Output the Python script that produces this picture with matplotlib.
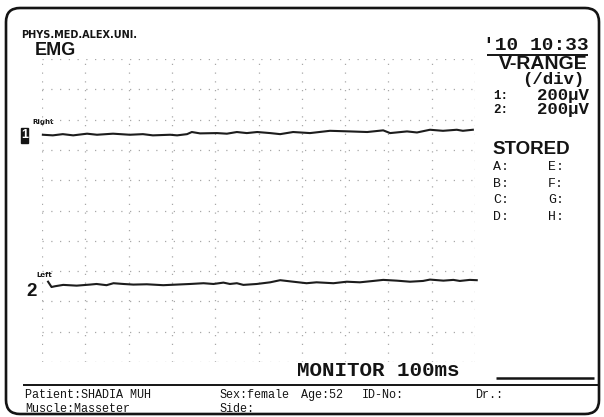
import numpy as np
import matplotlib
matplotlib.use("Agg")
import matplotlib.pyplot as plt
from matplotlib.patches import FancyBboxPatch, Rectangle

# ---- recorded traces (time in ms, deflection in microvolts) ----
right_t = [2, 25, 48, 72, 104, 127, 164, 203, 233, 256, 296, 312, 335, 346, 365,
           404, 427, 450, 473, 497, 527, 550, 580, 619, 665, 711, 751, 788, 804,
           843, 866, 896, 926, 958, 972, 995]
right_uv = [0, -4, 4, -4, 7, 0, 7, 0, 4, -4, 0, -4, 4, 18, 9,
            11, 7, 18, 11, 18, 11, 4, 18, 11, 26, 22, 18, 29, 11,
            22, 15, 33, 26, 33, 26, 33]

left_t = [14, 22, 30, 49, 80, 111, 126, 149, 165, 188, 211, 242, 280, 311, 342,
          373, 396, 419, 434, 450, 465, 496, 527, 550, 580, 611, 634, 673, 704,
          734, 765, 788, 819, 850, 880, 896, 927, 950, 965, 988, 1004]
left_uv = [30, -5, 0, 9, 4, 11, 15, 7, 20, 15, 11, 13, 7, 11, 15,
           20, 15, 24, 15, 20, 9, 15, 26, 40, 30, 20, 26, 20, 30,
           26, 35, 42, 37, 30, 35, 44, 37, 42, 35, 42, 40]

channel_labels = ["Right", "Left"]
channel_numbers = ["1", "2"]
v_range_uv = [200, 200]          # per-division sensitivity of each channel
sweep_ms_per_div = 100
n_div = 10

stored_left = ["A:", "B:", "C:", "D:"]
stored_right = ["E:", "F:", "G:", "H:"]

W, H = 604, 417
fig = plt.figure(figsize=(W / 100, H / 100), dpi=100)
fig.patch.set_facecolor("white")

# overlay in pixel units (y downward) for the printed frame and annotations
ov = fig.add_axes([0, 0, 1, 1])
ov.set_xlim(0, W)
ov.set_ylim(H, 0)
ov.axis("off")

ink = "#141414"
frame = FancyBboxPatch((6, 8), 593, 406, boxstyle="round,pad=0,rounding_size=14",
                       fill=False, ec=ink, lw=1.9)
ov.add_patch(frame)

mono = "Liberation Mono"
sans = "Liberation Sans"

ov.text(21, 35, "PHYS.MED.ALEX.UNI.", fontsize=7, family="DejaVu Sans",
        fontweight="bold", color=ink, va="center", ha="left")
ov.text(35, 50, "EMG", fontsize=13, family=sans, fontweight="bold", color=ink,
        va="center", ha="left")

# header block on the right
ov.text(589, 45, "'10 10:33", fontsize=14, family=mono, fontweight="bold",
        color=ink, va="center", ha="right")
ov.plot([487, 588], [55, 55], color=ink, lw=1.4, solid_capstyle="butt")
ov.text(588, 64, "V-RANGE", fontsize=14, family=sans, fontweight="bold", color=ink,
        va="center", ha="right")
ov.text(584, 79, "(/div)", fontsize=12.5, family=mono, fontweight="bold", color=ink,
        va="center", ha="right")
for i, (num, vr) in enumerate(zip(channel_numbers, v_range_uv)):
    yy = 95.5 + 14 * i
    ov.text(493, yy, f"{num}:", fontsize=9, family=mono, fontweight="bold",
            color=ink, va="center", ha="left")
    ov.text(589, yy, f"{vr}\u00b5V", fontsize=12.5, family=mono, fontweight="bold",
            color=ink, va="center", ha="right")

ov.text(492, 149, "STORED", fontsize=13.5, family=sans, fontweight="bold", color=ink,
        va="center", ha="left")
for i, (a, b) in enumerate(zip(stored_left, stored_right)):
    yy = 167 + 16.5 * i
    ov.text(493, yy, a, fontsize=9.5, family=mono, color=ink, va="center", ha="left")
    ov.text(548, yy, b, fontsize=9.5, family=mono, color=ink, va="center", ha="left")

# channel tags
ov.text(32, 122, channel_labels[0], fontsize=5, family="DejaVu Sans", fontweight="bold",
        color=ink, va="center", ha="left")
ov.add_patch(Rectangle((20.5, 128), 7.5, 15, fc=ink, ec=ink))
ov.text(24.3, 135.5, channel_numbers[0], fontsize=9, family=sans, fontweight="bold",
        color="white", va="center", ha="center")
ov.text(36, 275, channel_labels[1], fontsize=5, family="DejaVu Sans", fontweight="bold",
        color=ink, va="center", ha="left")
ov.text(26, 291, channel_numbers[1], fontsize=13.5, family=sans, fontweight="bold",
        color=ink, va="center", ha="left")

# sweep speed and patient block
ov.text(378, 371, f"MONITOR {sweep_ms_per_div}ms", fontsize=15, family=mono,
        fontweight="bold", color=ink, va="center", ha="center")
ov.plot([496, 594], [378, 378], color=ink, lw=1.8, solid_capstyle="butt")
ov.plot([23, 598], [385, 385], color=ink, lw=1.4, solid_capstyle="butt")

info = dict(fontsize=8.5, family=mono, color=ink, va="center", ha="left")
ov.text(25, 395, "Patient:SHADIA MUH", **info)
ov.text(25, 409, "Muscle:Masseter", **info)
ov.text(219, 395, "Sex:female", **info)
ov.text(301, 395, "Age:52", **info)
ov.text(362, 395, "ID-No:", **info)
ov.text(475, 395, "Dr.:", **info)
ov.text(219, 409, "Side:", **info)

# oscilloscope screen: 10 x 10 divisions
ax = fig.add_axes([42 / W, (H - 362) / H, 433 / W, 303 / H])
ax.set_facecolor("none")
ax.set_xlim(0, n_div * sweep_ms_per_div)
ax.set_ylim(0, n_div)
ax.set_xticks(np.arange(0, n_div * sweep_ms_per_div + 1, sweep_ms_per_div))
ax.set_yticks(np.arange(0, n_div + 1, 1))
ax.grid(True, color="#a8a8a8", lw=0.9, linestyle=(0, (1, 6)))
ax.tick_params(length=0, labelbottom=False, labelleft=False)
for s in ax.spines.values():
    s.set_visible(False)

offsets_div = [7.5, 2.5]
for t, uv, off, vr in zip([right_t, left_t], [right_uv, left_uv], offsets_div, v_range_uv):
    ax.plot(t, off + np.asarray(uv) / vr, color="#1c1c1c", lw=1.5, clip_on=False)

fig.savefig("out.png", dpi=100, facecolor="white")
